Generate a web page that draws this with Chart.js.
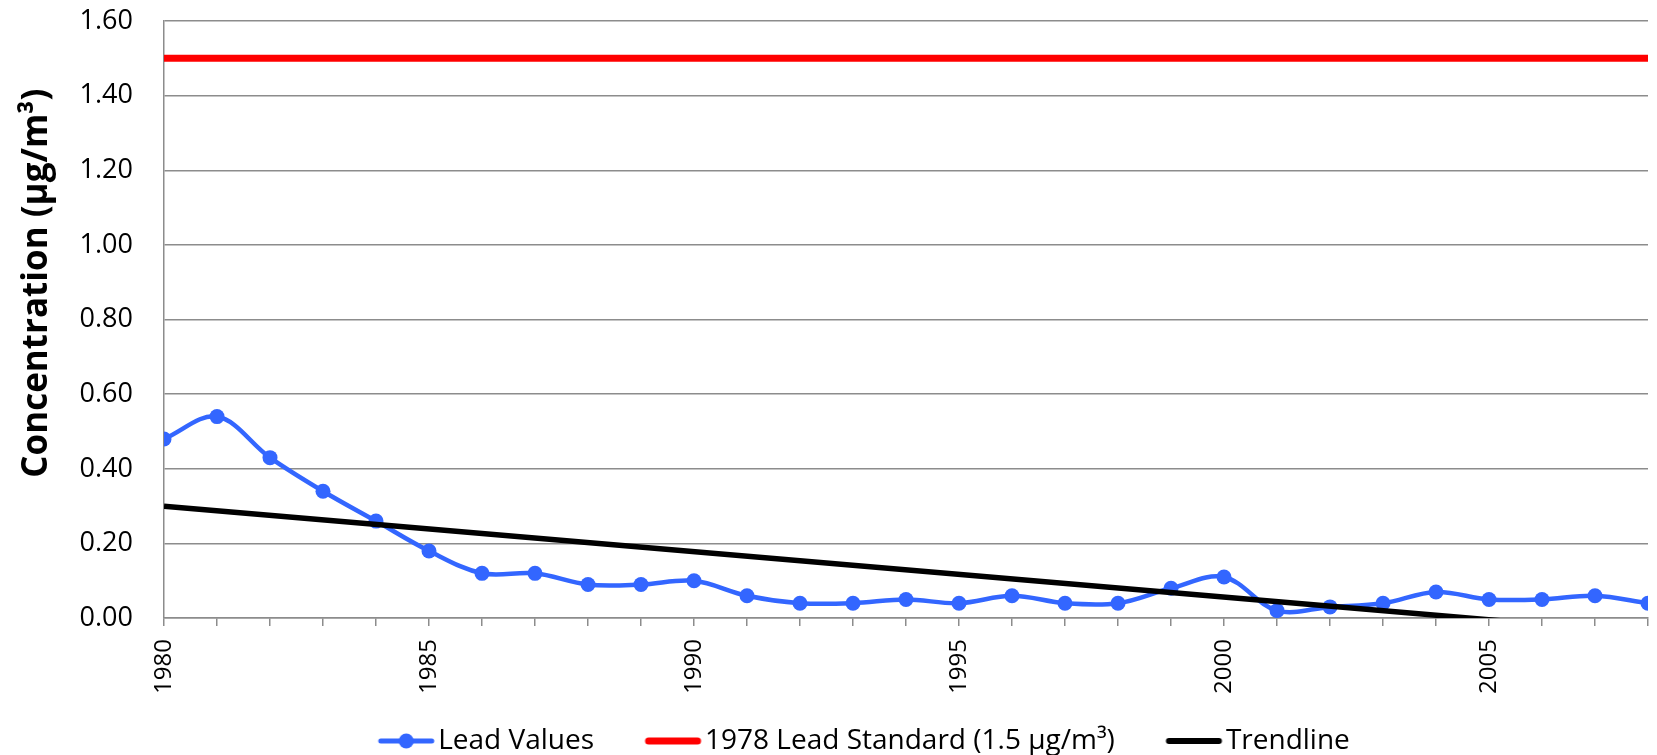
<!DOCTYPE html>
<html>
<head>
<meta charset="utf-8">
<title>Lead Concentration</title>
<script src="https://cdn.jsdelivr.net/npm/chart.js@4/dist/chart.umd.min.js"></script>
<style>
  html, body { margin: 0; padding: 0; background: #fff; }
  #wrap { width: 1657px; height: 755px; }
</style>
</head>
<body>
<div id="wrap"><canvas id="chart" width="1657" height="755"></canvas></div>
<script>
// years on the x axis (one tick each, label every 5th)
const years = [1980, 1981, 1982, 1983, 1984, 1985, 1986, 1987, 1988, 1989,
  1990, 1991, 1992, 1993, 1994, 1995, 1996, 1997, 1998, 1999,
  2000, 2001, 2002, 2003, 2004, 2005, 2006, 2007, 2008];

// annual lead concentration, µg/m³
const leadValues = [0.48, 0.54, 0.43, 0.34, 0.26, 0.18, 0.12, 0.12, 0.09, 0.09,
  0.10, 0.06, 0.04, 0.04, 0.05, 0.04, 0.06, 0.04, 0.04, 0.08,
  0.11, 0.02, 0.03, 0.04, 0.07, 0.05, 0.05, 0.06, 0.04];

// 1978 standard, flat line
const standardYears = [1980, 2008];
const standardValues = [1.5, 1.5];

// linear trendline end points (runs below zero, clipped at the axis)
const trendYears = [1980, 2008];
const trendValues = [0.30, -0.041];

const yTicks = [0, 0.2, 0.4, 0.6, 0.8, 1.0, 1.2, 1.4, 1.6];

const font = "'Open Sans', 'DejaVu Sans', sans-serif";

function toPoints(xs, ys) {
  return xs.map((x, i) => ({ x: x, y: ys[i] }));
}

// legend markers: a short line (optionally with a dot), drawn in the
// right part of a wider canvas so it sits close to its text
function makeMarker(color, lw, dot) {
  const c = document.createElement('canvas');
  c.width = 110;
  c.height = 18;
  const g = c.getContext('2d');
  const x0 = 52.5, x1 = 108.5;
  g.strokeStyle = color;
  g.lineWidth = lw;
  g.lineCap = 'round';
  g.beginPath();
  g.moveTo(x0 + lw / 2, 9);
  g.lineTo(x1 - lw / 2, 9);
  g.stroke();
  if (dot) {
    g.fillStyle = color;
    g.beginPath();
    g.arc((x0 + x1) / 2, 9, 7.5, 0, Math.PI * 2);
    g.fill();
  }
  return c;
}

const markers = [
  makeMarker('#3366ff', 5, true),
  makeMarker('#ff0000', 7, false),
  makeMarker('#000000', 6, false)
];

// nudge the legend block right and down, like the original
const legendShift = {
  id: 'legendShift',
  afterLayout(chart) {
    chart.legend.left += 23;
    chart.legend.top += 10;
    chart.legend.bottom += 10;
  }
};

// drop the extra room chart.js keeps for edge labels
function noEdgePadding(scale) {
  scale.paddingLeft = 0;
  scale.paddingRight = 0;
  scale.paddingTop = 0;
  scale.paddingBottom = 0;
}

const ctx = document.getElementById('chart').getContext('2d');
const chart = new Chart(ctx, {
  type: 'line',
  data: {
    datasets: [
      {
        label: 'Lead Values',
        data: toPoints(years, leadValues),
        borderColor: '#3366ff',
        backgroundColor: '#3366ff',
        borderWidth: 4.5,
        pointRadius: 7.5,
        pointBorderWidth: 0,
        pointHoverRadius: 7.5,
        tension: 0.35,
        order: 1
      },
      {
        label: '1978 Lead Standard (1.5 µg/m³)',
        data: toPoints(standardYears, standardValues),
        borderColor: '#ff0000',
        borderWidth: 7,
        pointRadius: 0,
        order: 3
      },
      {
        label: 'Trendline',
        data: toPoints(trendYears, trendValues),
        borderColor: '#000000',
        borderWidth: 5.5,
        pointRadius: 0,
        clip: 0,
        order: 0
      }
    ]
  },
  plugins: [legendShift],
  options: {
    responsive: false,
    animation: false,
    layout: { padding: { left: 16, right: 9, top: 21, bottom: 0 } },
    plugins: {
      tooltip: { enabled: false },
      legend: {
        position: 'bottom',
        labels: {
          usePointStyle: true,
          pointStyleWidth: 87,
          padding: 10,
          color: '#000',
          font: { family: font, size: 28, lineHeight: 1.1 },
          generateLabels: (ch) => ch.data.datasets.map((ds, i) => ({
            text: ds.label,
            pointStyle: markers[i],
            fillStyle: 'transparent',
            strokeStyle: 'transparent',
            lineWidth: 0,
            hidden: false,
            fontColor: '#000',
            datasetIndex: i
          }))
        }
      }
    },
    scales: {
      x: {
        type: 'linear',
        min: 1980,
        max: 2008,
        afterBuildTicks: (axis) => { axis.ticks = years.map(v => ({ value: v })); },
        afterFit: noEdgePadding,
        ticks: {
          autoSkip: false,
          minRotation: 90,
          maxRotation: 90,
          padding: 13,
          color: '#000',
          font: { family: font, size: 24 },
          callback: (v) => (v % 5 === 0 ? String(v) : '')
        },
        grid: {
          drawOnChartArea: false,
          drawTicks: true,
          tickLength: 8,
          color: '#8c8c8c',
          lineWidth: 1.5
        },
        border: { color: '#8c8c8c', width: 1.5 }
      },
      y: {
        min: 0,
        max: 1.6,
        afterBuildTicks: (axis) => { axis.ticks = yTicks.map(v => ({ value: v })); },
        afterFit: (scale) => {
          noEdgePadding(scale);
          scale.width = 148;
        },
        ticks: {
          padding: 31,
          color: '#000',
          font: { family: font, size: 27 },
          callback: (v) => v.toFixed(2)
        },
        grid: {
          drawTicks: false,
          color: '#8c8c8c',
          lineWidth: 1.5
        },
        border: { color: '#8c8c8c', width: 1.5 },
        title: {
          display: true,
          text: '        Concentration (µg/m³)',
          color: '#000',
          font: { family: font, size: 35, weight: 'bold' },
          padding: { top: 0, bottom: 20 }
        }
      }
    }
  }
});
</script>
</body>
</html>
